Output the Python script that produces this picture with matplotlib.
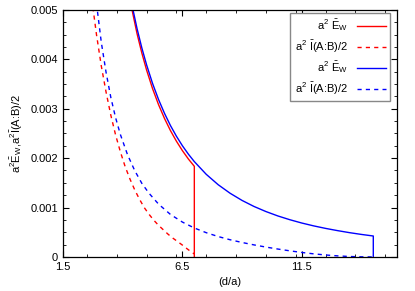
import numpy as np
import matplotlib
matplotlib.use("Agg")
import matplotlib.pyplot as plt
from matplotlib.ticker import FixedLocator, MultipleLocator, FuncFormatter

plt.rcParams['font.family'] = ['Liberation Sans', 'DejaVu Sans']
plt.rcParams['mathtext.fontset'] = 'custom'
plt.rcParams['mathtext.rm'] = 'Liberation Sans'
plt.rcParams['mathtext.it'] = 'Liberation Sans:italic'
plt.rcParams['mathtext.bf'] = 'Liberation Sans:bold'

# red set
x_red_ew = [4.35, 4.6, 4.8, 5.0, 5.25, 5.5, 5.75, 6.0, 6.25, 6.5, 6.75, 7.0, 7.0]
y_red_ew = [0.00509, 0.004518, 0.004127, 0.003782, 0.003406, 0.003083,
            0.002803, 0.002557, 0.002342, 0.002152, 0.001983, 0.001834, 0.0]
x_red_i = [2.7, 2.9, 3.1, 3.3, 3.5, 3.7, 3.9, 4.1, 4.3, 4.5, 4.7, 4.9, 5.1,
           5.3, 5.5, 5.7, 5.9, 6.1, 6.3, 6.5, 6.7, 6.8, 6.9, 7.0]
y_red_i = [0.00523, 0.00450, 0.00387, 0.00334, 0.00287, 0.00247, 0.00213,
           0.00183, 0.00158, 0.00136, 0.00117, 0.00100, 0.000864, 0.000744,
           0.00064, 0.00055, 0.00046, 0.000381, 0.000311, 0.00024, 0.000164,
           0.000128, 0.000095, 0.00006]

# blue set
x_blue_ew = [4.4, 4.6, 4.8, 5.0, 5.25, 5.5, 5.75, 6.0, 6.25, 6.5, 6.75, 7.0,
             7.5, 8.0, 8.5, 9.0, 9.5, 10.0, 10.5, 11.0, 11.5, 12.0, 12.5,
             13.0, 13.5, 14.0, 14.5, 14.5]
y_blue_ew = [0.005069, 0.004621, 0.004231, 0.003887, 0.003511, 0.003187,
             0.002906, 0.002659, 0.002443, 0.002251, 0.002081, 0.00193,
             0.001672, 0.001462, 0.001289, 0.001144, 0.001022, 0.000919,
             0.00083, 0.000754, 0.000687, 0.000629, 0.000578, 0.000533,
             0.000492, 0.000456, 0.000424, 0.0]
x_blue_i = [2.9, 3.1, 3.3, 3.5, 3.7, 3.9, 4.2, 4.5, 4.8, 5.1, 5.5, 6.0, 6.5,
            7.0, 7.5, 8.0, 8.5, 9.0, 9.5, 10.0, 10.5, 11.0, 11.5, 12.0, 12.5,
            13.0, 13.5, 14.0, 14.5]
y_blue_i = [0.00513, 0.00435, 0.00374, 0.00323, 0.00282, 0.00248, 0.00207,
            0.00175, 0.00149, 0.00129, 0.00107, 0.00086, 0.000706, 0.000586,
            0.000491, 0.000413, 0.000348, 0.000293, 0.000244, 0.0002,
            0.00016, 0.000124, 0.000091, 0.000063, 0.00004, 0.000022,
            0.0000092, 0.0000022, 0.0]

lab_ew = r'a$^2$ $\bar{\rm E}_{\rm W}$'
lab_i = r'a$^2$ $\bar{\rm I}$(A:B)/2'

fig = plt.figure(figsize=(4.15, 2.91), dpi=100)
ax = fig.add_axes([0.152, 0.117, 0.805, 0.849])

ax.plot(x_red_ew, y_red_ew, color='#ff0000', lw=1.0, label=lab_ew)
ax.plot(x_red_i, y_red_i, color='#ff0000', lw=1.0, dashes=(3, 3), label=lab_i)
ax.plot(x_blue_ew, y_blue_ew, color='#0000ff', lw=1.0, label=lab_ew)
ax.plot(x_blue_i, y_blue_i, color='#0000ff', lw=1.0, dashes=(3, 3), label=lab_i)

ax.set_xlim(1.5, 15.5)
ax.set_ylim(0, 0.005)
ax.xaxis.set_major_locator(FixedLocator([1.5, 6.5, 11.5]))
ax.xaxis.set_minor_locator(MultipleLocator(1.25))
ax.yaxis.set_major_locator(MultipleLocator(0.001))
ax.yaxis.set_minor_locator(MultipleLocator(0.00025))
ax.yaxis.set_major_formatter(FuncFormatter(lambda v, p: '0' if abs(v) < 1e-12 else '%g' % v))
ax.tick_params(which='both', direction='in', top=True, right=True, labelsize=8)
ax.tick_params(which='major', length=4, width=0.8)
ax.tick_params(which='minor', length=2, width=0.6)
for s in ax.spines.values():
    s.set_linewidth(0.9)

ax.set_xlabel('(d/a)', fontsize=8)
ax.set_ylabel(r'a$^2\bar{\rm E}_{\rm W}$,a$^2\bar{\rm I}$(A:B)/2', fontsize=8)

leg = ax.legend(loc='upper right', bbox_to_anchor=(390 / 415, 1 - 13 / 291),
                bbox_transform=fig.transFigure, borderaxespad=0,
                fontsize=8, markerfirst=False, fancybox=False,
                framealpha=1, edgecolor='#888888', handlelength=2.6,
                labelspacing=0.45)
leg.get_frame().set_linewidth(1.0)
for t in leg.get_texts():
    t.set_ha('right')

fig.savefig('out.png', dpi=100)
